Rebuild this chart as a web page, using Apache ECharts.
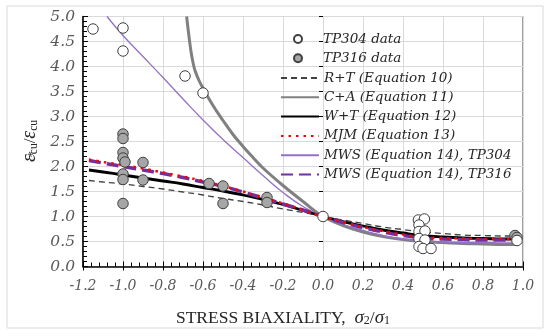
<!DOCTYPE html>
<html><head><meta charset="utf-8">
<script src="https://cdn.jsdelivr.net/npm/echarts@6/dist/echarts.min.js"></script>
<style>html,body{margin:0;padding:0;background:#fff}#c{width:550px;height:336px}</style>
</head><body><div id="c"></div>
<script>
// ---- data ----
const xTickMin = -1.2, xTickMax = 1.0, xTickStep = 0.2;
const yTickMin = 0, yTickMax = 5, yTickStep = 0.5;

const tp304 = [[-1.15,4.75],[-1.0,4.77],[-1.0,4.31],[-0.69,3.81],[-0.6,3.47],[0,1.0],
  [0.477,0.93],[0.507,0.95],[0.48,0.83],[0.48,0.70],[0.51,0.71],[0.48,0.56],[0.51,0.53],
  [0.48,0.40],[0.50,0.36],[0.54,0.36],[0.97,0.52]];
const tp316 = [[-1.0,2.65],[-1.0,2.56],[-1.0,2.28],[-1.0,2.17],[-0.99,2.09],[-1.0,1.85],[-1.0,1.74],[-1.0,1.26],
  [-0.9,2.08],[-0.9,1.73],[-0.57,1.66],[-0.5,1.61],[-0.5,1.26],[-0.28,1.38],[-0.28,1.28],[0.96,0.62],[0.97,0.58]];

const xs = [-1.17,-1.1,-1.0,-0.9,-0.8,-0.7,-0.6,-0.5,-0.4,-0.3,-0.2,-0.1,0,0.1,0.2,0.3,0.4,0.5,0.6,0.7,0.8,0.9,0.97];
const rtVals  = [1.72,1.69,1.65,1.60,1.55,1.49,1.43,1.36,1.30,1.23,1.15,1.08,1.0,0.93,0.86,0.79,0.74,0.69,0.66,0.63,0.62,0.61,0.61];
const wtVals  = [1.93,1.89,1.83,1.77,1.71,1.65,1.58,1.51,1.43,1.34,1.24,1.12,1.0,0.90,0.81,0.73,0.67,0.62,0.59,0.57,0.56,0.55,0.55];
const mjmVals = [2.14,2.09,2.03,1.96,1.88,1.80,1.71,1.61,1.50,1.38,1.26,1.13,1.0,0.89,0.79,0.71,0.64,0.59,0.57,0.56,0.55,0.55,0.55];
const m316Vals= [2.12,2.07,2.00,1.93,1.86,1.78,1.69,1.60,1.49,1.37,1.25,1.13,1.0,0.88,0.78,0.69,0.62,0.57,0.55,0.54,0.53,0.53,0.53];

const caXs   = [-0.682,-0.67,-0.66,-0.65,-0.64,-0.62,-0.6,-0.55,-0.5,-0.45,-0.4,-0.35,-0.3,-0.2,-0.1,0,0.1,0.2,0.3,0.4,0.5,0.6,0.7,0.8,0.9,0.97];
const caVals = [5.0,4.6,4.3,4.08,3.92,3.72,3.57,3.22,2.92,2.64,2.40,2.18,1.97,1.62,1.30,1.0,0.82,0.69,0.60,0.54,0.50,0.48,0.46,0.45,0.44,0.44];

const m304Xs   = [-1.08,-1.0,-0.9,-0.8,-0.7,-0.6,-0.5,-0.4,-0.3,-0.2,-0.1,0,0.1,0.2,0.3,0.4,0.5,0.6,0.7,0.8,0.9,0.97];
const m304Vals = [5.0,4.62,4.2,3.78,3.35,2.93,2.54,2.18,1.82,1.48,1.2,1.0,0.84,0.72,0.62,0.55,0.51,0.49,0.48,0.48,0.47,0.47];

const names = ['TP304 data','TP316 data','R+T (Equation 10)','C+A (Equation 11)','W+T (Equation 12)',
  'MJM (Equation 13)','MWS (Equation 14), TP304','MWS (Equation 14), TP316'];

function pairs(x, y){ return x.map((v,i)=>[v,y[i]]); }

const chart = echarts.init(document.getElementById('c'), null, {renderer:'canvas'});
const legFont = {fontFamily:'DejaVu Serif', fontStyle:'italic', fontSize:13.5, color:'#262626', lineHeight:14};
function tickLabel(size, margin){
  return {margin:margin, formatter:v=>'{a|'+v.toFixed(1)+'}',
    rich:{a:{fontFamily:'DejaVu Serif', fontStyle:'italic', fontSize:size, color:'#595959'}}};
}
const commonAxis = {
  axisLine:{show:true, onZero:false, lineStyle:{color:'#000', width:1.5}},
  axisTick:{show:true, inside:true, length:5, lineStyle:{color:'#000'}},
  minorTick:{show:true, splitNumber:5, length:4, lineStyle:{color:'#000'}},
  splitLine:{show:true, lineStyle:{color:'#d9d9d9', width:1}}
};
const outerTicks = {
  axisLine:{show:false}, axisLabel:{show:false}, splitLine:{show:false},
  axisTick:{show:true, inside:false, length:4, lineStyle:{color:'#000'}}
};

chart.setOption({
  animation:false,
  backgroundColor:'#fff',
  grid:{left:83, right:27, top:16.5, bottom:69.5, show:true, borderColor:'#404040', borderWidth:1},
  xAxis:[
    Object.assign({type:'value', min:xTickMin, max:xTickMax, interval:xTickStep, axisLabel:tickLabel(14,13)}, commonAxis),
    Object.assign({type:'value', position:'bottom', min:xTickMin, max:xTickMax, interval:xTickStep}, outerTicks)
  ],
  yAxis:[
    Object.assign({type:'value', min:yTickMin, max:yTickMax, interval:yTickStep, axisLabel:tickLabel(15.5,8)}, commonAxis),
    Object.assign({type:'value', position:'left', min:yTickMin, max:yTickMax, interval:yTickStep}, outerTicks)
  ],
  legend:[
    {data:[names[0],names[1]], orient:'vertical', left:288, top:27, itemWidth:10, itemHeight:8, itemGap:5.3,
      textStyle:Object.assign({padding:[0,0,0,15]}, legFont), selectedMode:false},
    {data:names.slice(2), orient:'vertical', left:275, top:66, itemWidth:38, itemHeight:14, itemGap:5.3,
      itemStyle:{opacity:0, borderWidth:0},
      textStyle:legFont, selectedMode:false}
  ],
  graphic:[
    {type:'rect', shape:{x:7, y:6, width:536, height:322}, style:{fill:'none', stroke:'#d9d9d9', lineWidth:1}, silent:true, z:-10},
    {type:'text', x:283, y:317, silent:true, style:{
      text:'{u|STRESS BIAXIALITY,  }{i|σ}{s|2}{u|/}{i|σ}{s|1}', align:'center', verticalAlign:'middle',
      rich:{u:{fontFamily:'Liberation Serif', fontSize:17.5, fill:'#262626', lineHeight:20, verticalAlign:'bottom'},
            i:{fontFamily:'Liberation Serif', fontStyle:'italic', fontSize:19, fill:'#262626', lineHeight:20, verticalAlign:'bottom'},
            s:{fontFamily:'Liberation Serif', fontSize:12, fill:'#262626', lineHeight:14, verticalAlign:'bottom'}}}},
    {type:'text', x:24, y:141, rotation:Math.PI/2, silent:true, style:{
      text:'{i|ε}{p|*}{s|cu}{u|/}{i|ε}{s|cu}', align:'center', verticalAlign:'middle',
      rich:{u:{fontFamily:'Liberation Serif', fontSize:17, fill:'#262626', lineHeight:20, verticalAlign:'bottom'},
            i:{fontFamily:'Liberation Serif', fontStyle:'italic', fontSize:20, fill:'#262626', lineHeight:20, verticalAlign:'bottom'},
            p:{fontFamily:'Liberation Serif', fontSize:13, fill:'#262626', width:0, lineHeight:31, verticalAlign:'bottom'},
            s:{fontFamily:'Liberation Serif', fontSize:11.5, fill:'#262626', lineHeight:14, verticalAlign:'bottom'}}}}
  ],
  series:[
    {name:names[3], type:'line', data:pairs(caXs,caVals), smooth:0.4, symbol:'none', z:2,
      lineStyle:{color:'#808080', width:3}, itemStyle:{color:'#808080'}},
    {name:names[6], type:'line', data:pairs(m304Xs,m304Vals), smooth:true, symbol:'none', z:3,
      lineStyle:{color:'#9470c8', width:1.3}, itemStyle:{color:'#9470c8'}},
    {name:names[4], type:'line', data:pairs(xs,wtVals), smooth:true, symbol:'none', z:4,
      lineStyle:{color:'#000', width:2.8}, itemStyle:{color:'#000'}},
    {name:names[2], type:'line', data:pairs(xs,rtVals), smooth:true, symbol:'none', z:5,
      lineStyle:{color:'#404040', width:1.3, type:[6,4]}, itemStyle:{color:'#404040'}},
    {name:names[7], type:'line', data:pairs(xs,m316Vals), smooth:true, symbol:'none', z:6,
      lineStyle:{color:'#7030a0', width:3.5, type:[12,6]}, itemStyle:{color:'#7030a0'}},
    {name:names[5], type:'line', data:pairs(xs,mjmVals), smooth:true, symbol:'none', z:7,
      lineStyle:{color:'#ff0000', width:2.5, type:[2.5,5]}, itemStyle:{color:'#ff0000'}},
    {name:names[1], type:'scatter', data:tp316, symbol:'circle', symbolSize:10.5, z:8,
      itemStyle:{color:'#a6a6a6', borderColor:'#404040', borderWidth:1, opacity:1}},
    {name:names[0], type:'scatter', data:tp304, symbol:'circle', symbolSize:10.5, z:9,
      itemStyle:{color:'#ffffff', borderColor:'#404040', borderWidth:1, opacity:1}}
  ]
});
</script></body></html>
